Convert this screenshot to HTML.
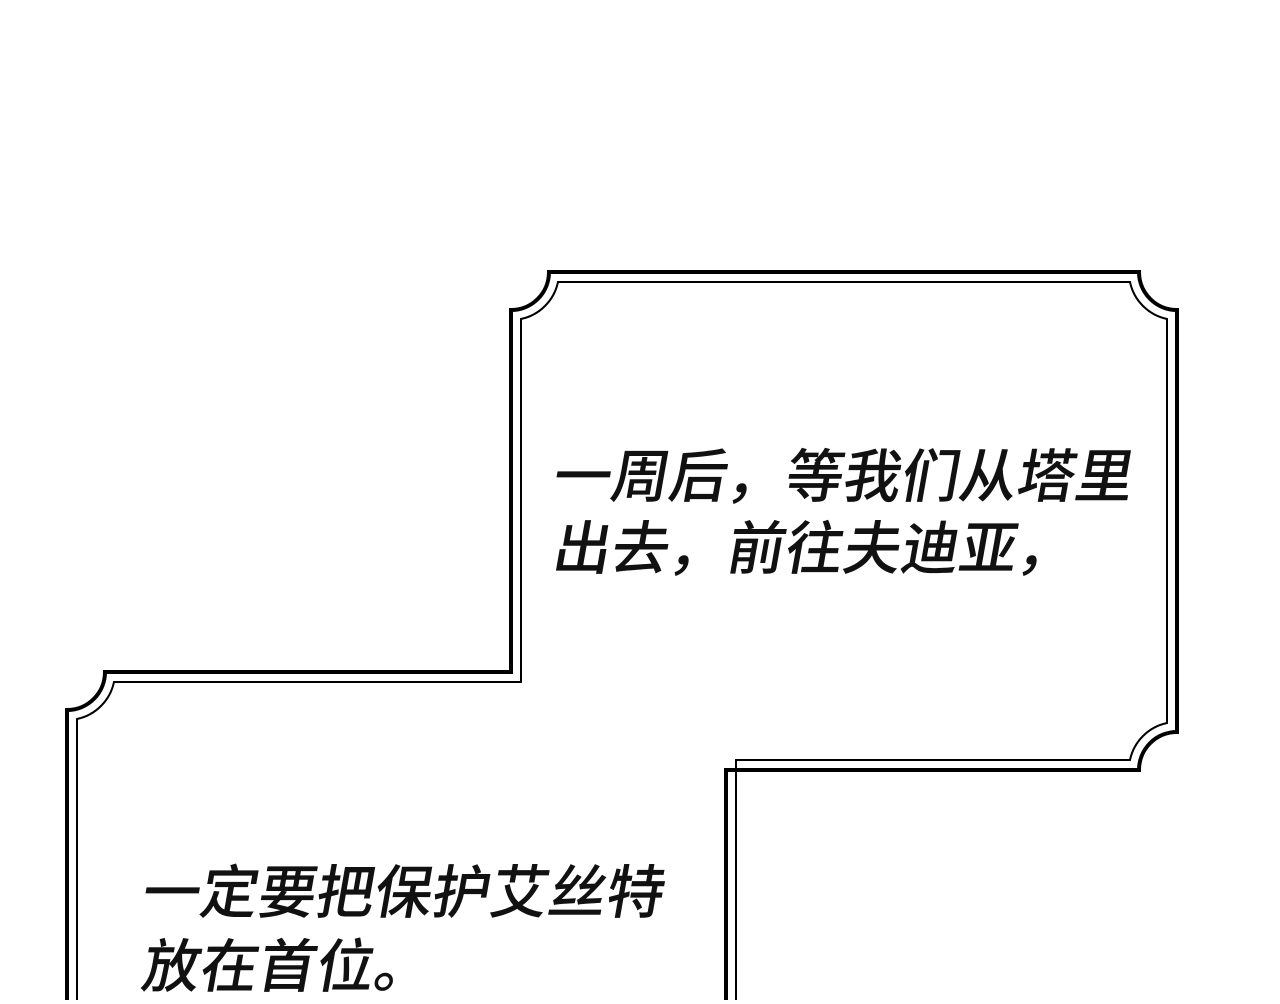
<!DOCTYPE html>
<html><head><meta charset="utf-8"><style>
html,body{margin:0;padding:0;background:#fff;}
body{width:1280px;height:1000px;position:relative;overflow:hidden;}
svg{position:absolute;left:0;top:0;}
.t{position:absolute;font-family:"Noto Sans CJK SC","Liberation Sans",sans-serif;font-weight:500;font-size:58px;line-height:70px;height:70px;color:#111;white-space:nowrap;transform:skewX(-10deg);transform-origin:left center;}
</style></head><body>
<svg width="1280" height="1000" viewBox="0 0 1280 1000">
<path d="M67 1000 L67 710 A38 38 0 0 0 105 672 L511 672 L511 310 A38 38 0 0 0 549 272 L1139 272 A38 38 0 0 0 1177 310 L1177 732 A38 38 0 0 0 1139 770 L726 770 L726 1000" fill="none" stroke="#000" stroke-width="4"/>
<path d="M77 1000 L77 719 A48 48 0 0 0 114 682 L521 682 L521 319 A48 48 0 0 0 558 282 L1130 282 A48 48 0 0 0 1167 319 L1167 723 A48 48 0 0 0 1130 760 L736 760 L736 1000" fill="none" stroke="#000" stroke-width="2"/>
</svg>
<div class="t" style="left:555px;top:437px;">一周后，等我们从塔里</div>
<div class="t" style="left:555px;top:509px;">出去，前往夫迪亚，</div>
<div class="t" style="left:144px;top:853px;">一定要把保护艾丝特</div>
<div class="t" style="left:144px;top:927px;">放在首位。</div>
</body></html>
